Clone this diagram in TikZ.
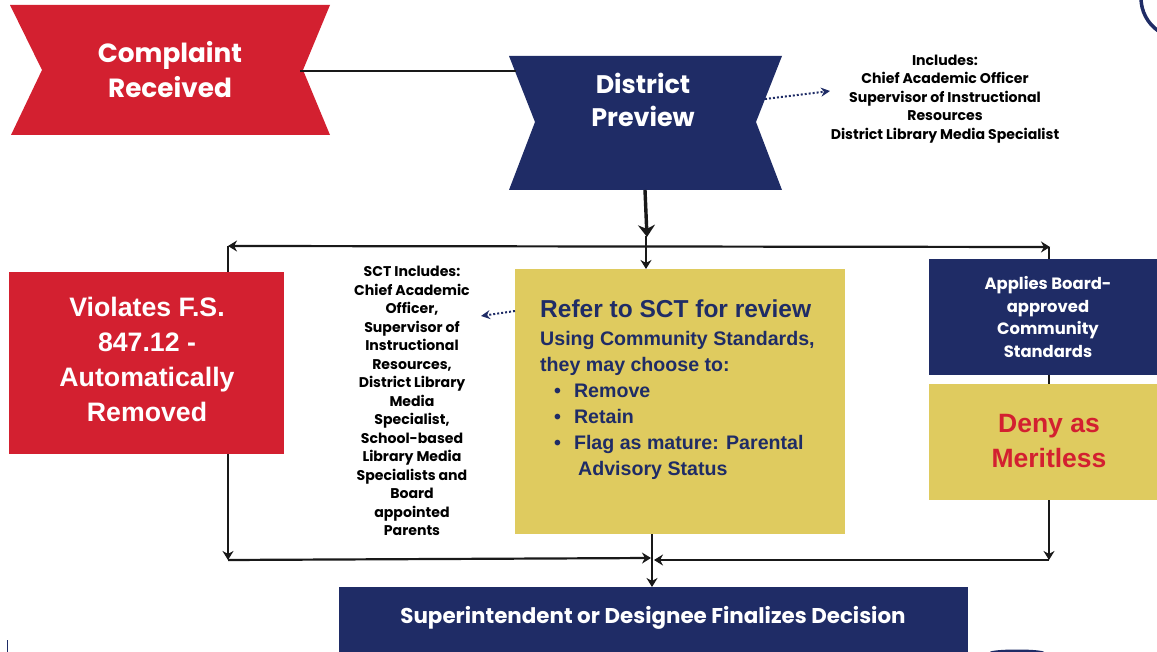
\documentclass[tikz,border=0pt]{standalone}
\usepackage{fontspec}
\setmainfont{Liberation Sans}
\newfontfamily\geo{Poppins}
\usetikzlibrary{arrows.meta,calc}
\definecolor{navy}{HTML}{1F2C66}
\definecolor{crimson}{HTML}{D32030}
\definecolor{gold}{HTML}{DFCB5F}
\tikzset{
  boxbase/.style={anchor=north west,inner sep=0pt,outer sep=0pt,align=center},
  flowline/.style={line width=2.2pt,black!90},
  flowarrow/.style={flowline,-{Stealth[length=9pt,width=11pt]}},
  heavyarrow/.style={line width=3.4pt,black!90,-{Stealth[length=12pt,width=17pt]}},
  dotarrow/.style={navy,line width=2pt,dotted,-{Stealth[length=9pt,width=9pt]}},
  note/.style={align=center,text=black,font=\geo\bfseries\fontsize{14.1}{18.5}\selectfont},
}
\begin{document}
\begin{tikzpicture}[x=1pt,y=-1pt]
\useasboundingbox (0,0) rectangle (1157,652);
\clip (0,0) rectangle (1157,652);
% seal fragments
\draw[navy,line width=3.5pt] (1141,-2) arc[start angle=180,end angle=125,radius=40];
\fill[navy] (1017,652) ellipse[x radius=27pt,y radius=2.5pt];
\fill[navy] (6.5,640) rectangle (8,652);
% ribbons
\fill[crimson] (10,5) -- (330,5) -- (303,70) -- (330,135) -- (11,135) -- (42,70) -- cycle;
\fill[navy] (509,56) -- (782,56) -- (756,122) -- (782,190) -- (509,190) -- (535,122) -- cycle;
\node[text=white,align=center,font=\geo\bfseries\fontsize{26.3}{35}\selectfont] (complaint) at (170,70) {Complaint\\Received};
\node[text=white,align=center,font=\geo\bfseries\fontsize{25.4}{33}\selectfont] (district) at (643,100) {District\\Preview};
\coordinate (complaintout) at (300,71);
\coordinate (districtin) at (516,71);
\coordinate (districtbottom) at (645,190);
\coordinate (districtright) at (765,99);
% boxes
\node[boxbase,fill=crimson,minimum width=275pt,minimum height=182pt] (violates) at (9,272) {};
\node[text=white,align=center,font=\bfseries\fontsize{26.7}{35.2}\selectfont] (violatestext) at (147,359.5) {Violates F.S.\\847.12 -\\Automatically\\Removed};
\node[boxbase,fill=gold,minimum width=330pt,minimum height=265pt] (refer) at (515,269) {};
\node[anchor=north west,inner sep=0pt,align=left,text=navy,font=\bfseries\fontsize{19.6}{26}\selectfont] (refertext) at (540,300)
 {\fontsize{24.5}{26}\selectfont Refer to SCT for review\\[2pt]
  Using Community Standards,\\
  they may choose to:\\
  \hspace*{14pt}\textbullet\hspace{13pt}Remove\\
  \hspace*{14pt}\textbullet\hspace{13pt}Retain\\
  \hspace*{14pt}\textbullet\hspace{13pt}Flag as mature: Parental\\
  \hspace*{38pt}Advisory Status};
\node[boxbase,fill=navy,minimum width=228pt,minimum height=116pt] (applies) at (929,259) {};
\node[text=white,align=center,font=\geo\bfseries\fontsize{16.4}{22.5}\selectfont] (appliestext) at (1048,317) {Applies Board-\\approved\\Community\\Standards};
\node[boxbase,fill=gold,minimum width=228pt,minimum height=116pt] (deny) at (929,384) {};
\node[text=crimson,align=center,font=\bfseries\fontsize{26.5}{35}\selectfont] (denytext) at (1049,441) {Deny as\\Meritless};
\node[boxbase,fill=navy,minimum width=629pt,minimum height=70pt] (final) at (339,587) {};
\node[text=white,font=\geo\bfseries\fontsize{21.4}{24}\selectfont] (finaltext) at (653,618) {Superintendent or Designee Finalizes Decision};
% notes
\node[note] (includes) at (945,99) {Includes:\\Chief Academic Officer\\Supervisor of Instructional\\Resources\\District Library Media Specialist};
\node[note] (sct) at (412,401) {SCT Includes:\\Chief Academic\\Officer,\\Supervisor of\\Instructional\\Resources,\\District Library\\Media\\Specialist,\\School-based\\Library Media\\Specialists and\\Board\\appointed\\Parents};
% connectors
\coordinate (includesin) at (830,91);
\coordinate (referout) at (515,311);
\coordinate (sctin) at (481,316);
\draw[flowline] (complaintout) -- (districtin);
\draw[dotarrow] (districtright) -- (includesin);
\draw[dotarrow] (referout) -- (sctin);
\coordinate (busleft) at (228,246);
\coordinate (busright) at (1050,247);
\coordinate (busmid) at (646,236);
\coordinate (referin) at (646,269);
\draw[flowline,{Stealth[length=9pt,width=11pt]}-{Stealth[length=9pt,width=11pt]}] (busleft) -- (busright);
\draw[flowarrow] (busmid) -- (referin);
\draw[heavyarrow] (districtbottom) -- (647,237);
\draw[flowline] (busleft) -- (228,272);
\draw[flowline] (1049,247) -- (1049,259);
\draw[flowline] (1049,375) -- (1049,384);
\coordinate (lowleft) at (228,560);
\coordinate (lowright) at (1049,560);
\coordinate (lowmid) at (651,558);
\draw[flowarrow] (228,454) -- (lowleft);
\draw[flowarrow] (1049,500) -- (lowright);
\draw[flowarrow] (lowleft) -- (lowmid);
\draw[flowarrow] (lowright) -- (654,560);
\draw[flowarrow] (652,534) -- (652,587);
\end{tikzpicture}
\end{document}
